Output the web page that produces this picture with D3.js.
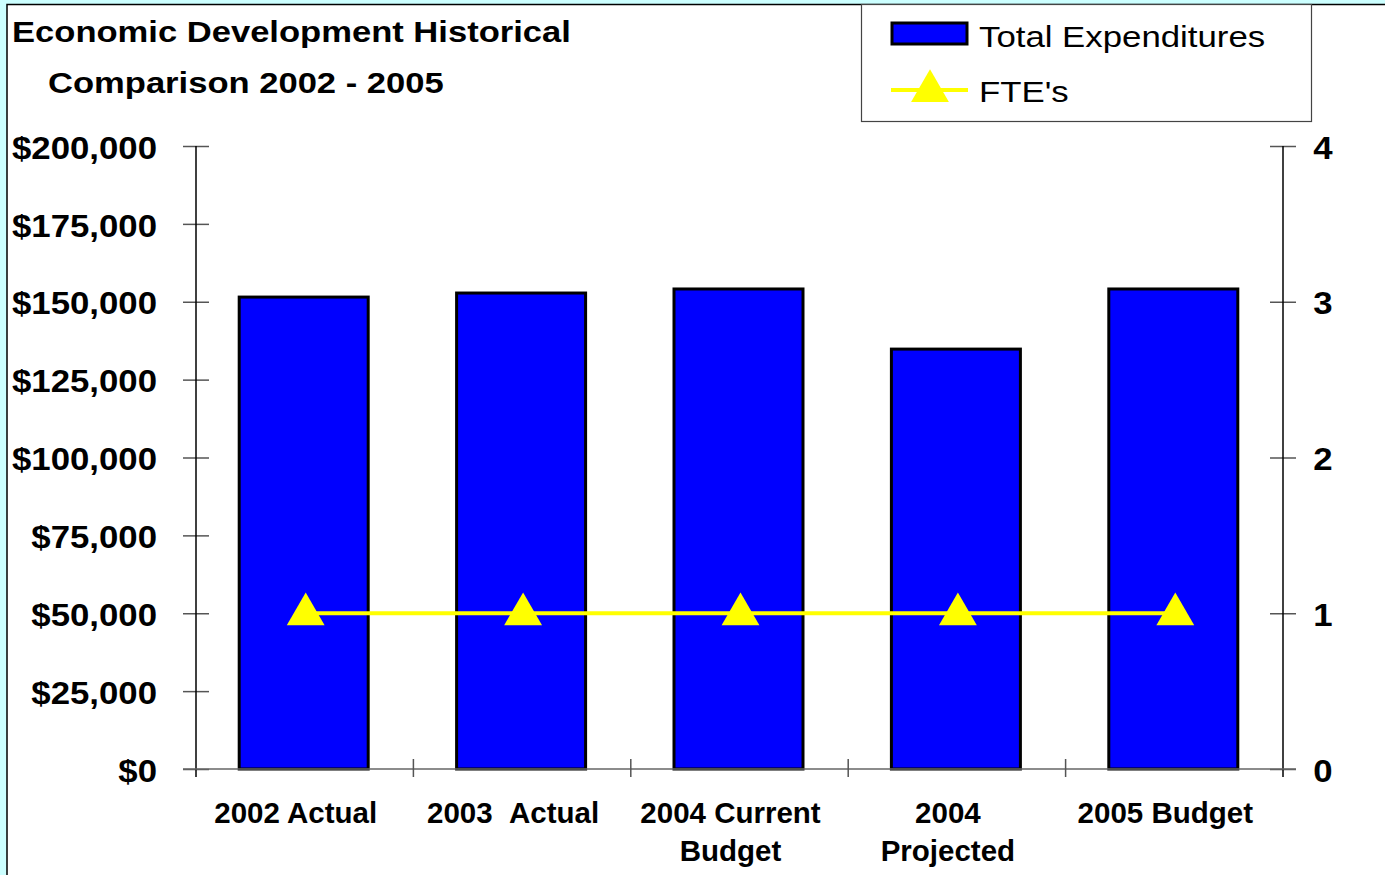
<!DOCTYPE html>
<html><head><meta charset="utf-8">
<script src="https://cdn.jsdelivr.net/npm/d3@7"></script>
<style>body{margin:0;background:#fff;}svg{display:block;font-family:"Liberation Sans",Arial,sans-serif;}</style>
</head><body>
<script>
const categories = [["2002 Actual"], ["2003\u00a0\u00a0Actual"], ["2004 Current","Budget"], ["2004","Projected"], ["2005 Budget"]];
const expenditures = [151500, 152800, 154100, 134800, 154100];
const ftes = [1, 1, 1, 1, 1];
const leftTicks = [0, 25000, 50000, 75000, 100000, 125000, 150000, 175000, 200000];
const rightTicks = [0, 1, 2, 3, 4];
const titleLines = ["Economic Development Historical", "Comparison 2002 - 2005"];
const legendLabels = ["Total Expenditures", "FTE's"];

const W = 1385, H = 875;
const svg = d3.select("body").append("svg").attr("width", W).attr("height", H);
svg.append("rect").attr("width", W).attr("height", H).attr("fill", "#ccffff");
svg.append("rect").attr("x", 7).attr("y", 4.5).attr("width", W).attr("height", H).attr("fill", "#fff").attr("stroke", "#000").attr("stroke-width", 1.5);

const x0 = 196, x1 = 1283, yTop = 146, yBot = 769;
const x = d3.scaleBand().domain(d3.range(categories.length)).range([x0, x1]).paddingInner(0).paddingOuter(0);
const yL = d3.scaleLinear().domain([0, 200000]).range([yBot, yTop]);
const yR = d3.scaleLinear().domain([0, 4]).range([yBot, yTop]);

// title (horizontally stretched like the reference)
svg.append("text").attr("transform", "translate(12,42) scale(1.18,1)").attr("font-size", 29.3).attr("font-weight", "bold").text(titleLines[0]);
svg.append("text").attr("transform", "translate(48,92.5) scale(1.18,1)").attr("font-size", 29.3).attr("font-weight", "bold").text(titleLines[1]);

// bars
const bw = 129;
svg.selectAll("rect.bar").data(expenditures).enter().append("rect").attr("class", "bar")
  .attr("x", (d, i) => x(i) + x.bandwidth() / 2 - 1 - bw / 2)
  .attr("y", d => yL(d)).attr("width", bw).attr("height", d => yBot - yL(d))
  .attr("fill", "#0000ff").attr("stroke", "#000").attr("stroke-width", 3);

// left axis
const gL = svg.append("g").attr("transform", `translate(${x0},0)`);
gL.call(d3.axisLeft(yL).tickValues(leftTicks).tickSize(0).tickPadding(0));
gL.select(".domain").remove();
gL.append("line").attr("y1", yTop).attr("y2", yBot + 8).attr("stroke", "#000").attr("stroke-width", 1.5);
gL.selectAll(".tick line").remove();
gL.selectAll(".tick").append("line").attr("x1", -13).attr("x2", 13).attr("stroke", "#555").attr("stroke-width", 1.5);
gL.selectAll(".tick text").attr("x", 0).attr("dy", "0.4em").attr("transform", "translate(-39,0) scale(1.14,1)")
  .attr("font-size", 30.5).attr("font-weight", "bold")
  .attr("font-family", "Liberation Sans, Arial, sans-serif").attr("fill", "#000")
  .text(d => "$" + d3.format(",")(d));

// right axis
const gR = svg.append("g").attr("transform", `translate(${x1},0)`);
gR.call(d3.axisRight(yR).tickValues(rightTicks).tickSize(0).tickPadding(0).tickFormat(d3.format("d")));
gR.select(".domain").remove();
gR.append("line").attr("y1", yTop).attr("y2", yBot + 8).attr("stroke", "#000").attr("stroke-width", 1.5);
gR.selectAll(".tick line").remove();
gR.selectAll(".tick").append("line").attr("x1", -13).attr("x2", 13).attr("stroke", "#555").attr("stroke-width", 1.5);
gR.selectAll(".tick text").attr("x", 0).attr("dy", "0.4em").attr("transform", "translate(40,0) scale(1.14,1)")
  .attr("text-anchor", "middle").attr("font-size", 30.5).attr("font-weight", "bold")
  .attr("font-family", "Liberation Sans, Arial, sans-serif").attr("fill", "#000");

// x axis
svg.append("line").attr("x1", x0 - 13).attr("x2", x1 + 13).attr("y1", yBot).attr("y2", yBot).attr("stroke", "#666").attr("stroke-width", 1.5);
const bounds = d3.range(1, categories.length).map(i => x(i));
svg.selectAll("line.xt").data(bounds).enter().append("line").attr("class", "xt")
  .attr("x1", d => d).attr("x2", d => d).attr("y1", yBot - 10).attr("y2", yBot + 8).attr("stroke", "#555").attr("stroke-width", 1.5);
const xl = svg.selectAll("text.xl").data(categories).enter().append("text").attr("class", "xl")
  .attr("text-anchor", "middle").attr("font-size", 29.5).attr("font-weight", "bold");
xl.selectAll("tspan").data((d, i) => d.map(s => ({ s, i }))).enter().append("tspan")
  .attr("x", d => x(d.i) + x.bandwidth() / 2 - 9).attr("y", (d, j) => 823 + j * 38).text(d => d.s);

// FTE line
const line = d3.line().x((d, i) => x(i) + x.bandwidth() / 2 + 1).y(d => yR(d));
svg.append("path").datum(ftes).attr("d", line).attr("fill", "none").attr("stroke", "#ffff00").attr("stroke-width", 4);
const tri = d3.symbol().type(d3.symbolTriangle).size(620);
svg.selectAll("path.tri").data(ftes).enter().append("path").attr("class", "tri")
  .attr("transform", (d, i) => `translate(${x(i) + x.bandwidth() / 2 + 1},${yR(d) + 1})`)
  .attr("d", tri).attr("fill", "#ffff00");

// legend
const lg = svg.append("g");
lg.append("rect").attr("x", 861.5).attr("y", 4.5).attr("width", 450).attr("height", 117).attr("fill", "#fff").attr("stroke", "#444").attr("stroke-width", 1.2);
lg.append("rect").attr("x", 892).attr("y", 23).attr("width", 75).attr("height", 21).attr("fill", "#0000ff").attr("stroke", "#000").attr("stroke-width", 3);
lg.append("line").attr("x1", 891).attr("x2", 968).attr("y1", 90).attr("y2", 90).attr("stroke", "#ffff00").attr("stroke-width", 4);
lg.append("path").attr("transform", "translate(930,91)").attr("d", tri).attr("fill", "#ffff00");
lg.append("text").attr("transform", "translate(979,47) scale(1.16,1)").attr("font-size", 30).text(legendLabels[0]);
lg.append("text").attr("transform", "translate(979,102) scale(1.16,1)").attr("font-size", 30).text(legendLabels[1]);
</script>
</body></html>
